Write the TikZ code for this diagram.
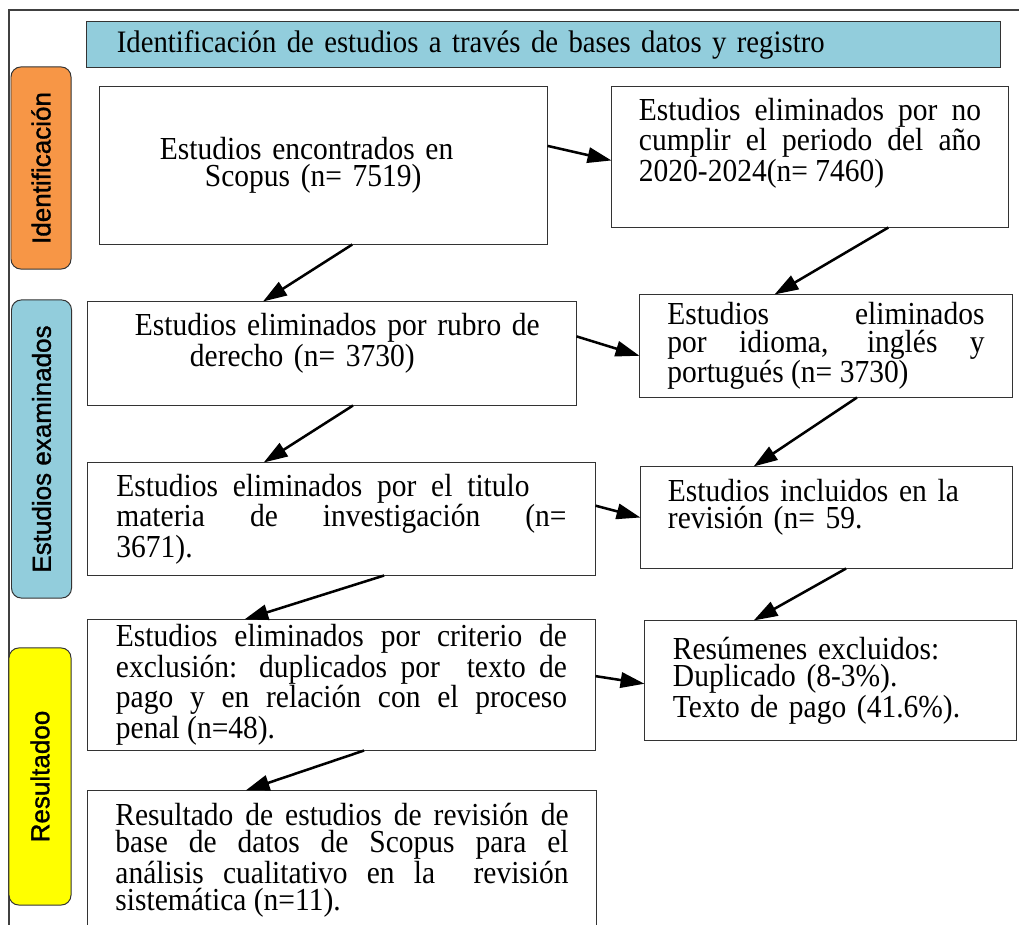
\documentclass[tikz,border=0pt]{standalone}
\usepackage{fontspec}
\setmainfont[FakeStretch=0.92]{Liberation Serif}
\newfontfamily\etiqfont[FakeBold=1.2]{Liberation Sans}
\usetikzlibrary{arrows.meta}
\definecolor{celeste}{HTML}{92CDDC}
\definecolor{naranja}{HTML}{F79646}
\definecolor{amarillo}{HTML}{FFFF00}
\newcommand{\abajo}[1]{\par\nointerlineskip\vspace{#1}\hbox{}}

\begin{document}
\begin{tikzpicture}[x=0.025cm, y=-0.025cm,
    caja/.style={draw=black!80, line width=0.7pt, fill=white, inner sep=0pt, font=\fontsize{22.8}{19.5}\selectfont},
    fase/.style={draw=black!80, line width=0.7pt, rounded corners=7pt, rotate=90, inner sep=0pt, minimum height=1.5cm, font=\etiqfont\fontsize{18.5}{20}\selectfont},
    flecha/.style={line width=1.8pt, -{Triangle[length=17pt,width=11pt]}}]
  \clip (0,0) rectangle (1019,925);
  \draw[black!75, line width=1pt] (1019,10) -- (9,10) -- (9,925); % marco

  % encabezado
  \node[caja, fill=celeste, minimum width=22.825cm, minimum height=1.125cm, text width=21.325cm, align=left, font=\fontsize{22.2}{19}\selectfont] (titulo) at (543.5,44.5) {Identificación de estudios a través de bases datos y registro};

  % fases
  \node[fase, fill=naranja, minimum width=5.05cm] (ident) at (41,168) {Identificación};
  \node[fase, fill=celeste, minimum width=7.45cm] (exam) at (41.5,449) {Estudios examinados};
  \node[fase, fill=amarillo, minimum width=6.425cm, minimum height=1.55cm] (result) at (40,776.5) {Resultadoo};

  % columna izquierda
  \node[caja, minimum width=11.175cm, minimum height=3.925cm, text width=8.175cm, align=left] (A) at (323.5,165.5) {Estudios encontrados en\\\hspace*{1.125cm}Scopus (n= 7519)};
  \node[caja, minimum width=12.2cm, minimum height=2.575cm, text width=9.85cm, align=left] (C) at (332,353.5) {\mbox{Estudios eliminados por rubro de}\\\hspace*{1.375cm}derecho (n= 3730)\abajo{0.5cm}};
  \node[caja, minimum width=12.675cm, minimum height=2.8cm, text width=11.25cm, align=justify] (E) at (341.5,519) {\makebox[10.325cm][s]{Estudios eliminados por el titulo}\\ materia de investigación (n=\linebreak 3671).};
  \node[caja, minimum width=12.675cm, minimum height=3.25cm, text width=11.275cm, align=justify] (G) at (341.5,685) {Estudios eliminados por criterio de\linebreak exclusión: duplicados por \ texto de\linebreak pago y en relación con el proceso\linebreak penal (n=48).};
  \node[caja, minimum width=12.7cm, minimum height=3.475cm, text width=11.325cm, align=justify] (I) at (342,860.5) {Resultado de estudios de revisión de\linebreak base de datos de Scopus para el\linebreak análisis cualitativo en la \ revisión\linebreak sistemática (n=11).};

  % columna derecha
  \node[caja, minimum width=9.9cm, minimum height=3.5cm, text width=8.55cm, align=justify] (B) at (810,157) {Estudios eliminados por no\linebreak cumplir el periodo del año\linebreak 2020-2024(n= 7460)\abajo{0.7cm}};
  \node[caja, minimum width=9.3cm, minimum height=2.55cm, text width=7.925cm, align=justify] (D) at (826,346) {Estudios eliminados\linebreak por idioma, inglés y\linebreak portugués (n= 3730)};
  \node[caja, minimum width=9.275cm, minimum height=2.525cm, text width=7.925cm, align=left] (F) at (826.5,517.5) {Estudios incluidos en la\\revisión (n= 59.\abajo{0.5cm}};
  \node[caja, minimum width=9.275cm, minimum height=2.975cm, text width=7.875cm, align=left] (H) at (830.5,680.5) {Resúmenes excluidos:\\Duplicado (8-3\%).\\Texto de pago (41.6\%).};

  % flechas
  \draw[flecha] (A.5.75) -- (B.181);
  \draw[flecha] (A.-70) -- (C.143.3);
  \draw[flecha] (B.-42.6) -- (D.135.6);
  \draw[flecha] (C.4.3) -- (D.183.7);
  \draw[flecha] (C.-68.8) -- (E.144.8);
  \draw[flecha] (D.-59.5) -- (F.145.9);
  \draw[flecha] (E.3.4) -- (F.180.2);
  \draw[flecha] (E.-53.5) -- (G.146.3);
  \draw[flecha] (F.-69.9) -- (H.142.8);
  \draw[flecha] (G.2.7) -- (H.181.7);
  \draw[flecha] (G.-71.7) -- (I.144.4);
\end{tikzpicture}
\end{document}
